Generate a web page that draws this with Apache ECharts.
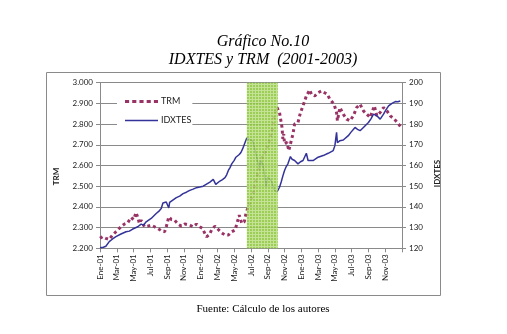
<!DOCTYPE html>
<html>
<head>
<meta charset="utf-8">
<script src="https://cdn.jsdelivr.net/npm/echarts@6/dist/echarts.min.js"></script>
<style>
  html, body { margin: 0; padding: 0; background: #fff; }
  #chart { width: 507px; height: 334px; }
</style>
</head>
<body>
<div id="chart"></div>
<script>
// Month labels shown every two months (x = months elapsed since January 2001)
const monthLabels = ['Ene-01','Mar-01','May-01','Jul-01','Sep-01','Nov-01',
  'Ene-02','Mar-02','May-02','Jul-02','Sep-02','Nov-02',
  'Ene-03','Mar-03','May-03','Jul-03','Sep-03','Nov-03'];

// TRM (pesos per dollar), [month, value]
const trmData = [[0,2248],[0.3,2256],[0.7,2248],[1.1,2243],[1.5,2264],[1.9,2280],[2.5,2304],[2.9,2317],
  [3.3,2323],[3.7,2349],[4.0,2339],[4.3,2373],[4.5,2349],[4.7,2320],[4.9,2336],[5.3,2304],[5.7,2307],
  [6.1,2312],[6.5,2304],[6.9,2296],[7.3,2285],[7.7,2280],[7.9,2304],[8.2,2352],[8.5,2339],[8.9,2336],
  [9.3,2317],[9.7,2307],[10.1,2317],[10.7,2312],[11.1,2304],[11.5,2317],[11.9,2304],[12.2,2296],
  [12.5,2272],[12.7,2256],[13.0,2264],[13.3,2288],[13.7,2307],[14.1,2291],[14.5,2275],[14.9,2264],
  [15.3,2264],[15.7,2280],[16.1,2288],[16.3,2317],[16.6,2360],[16.9,2320],[17.2,2328],[17.4,2368],
  [17.6,2392],[18.2,2456],[18.6,2528],[19.0,2592],[19.4,2648],[19.8,2672],[20.2,2720],[20.6,2784],
  [20.8,2848],[21.1,2880],[21.4,2856],[21.6,2848],[21.7,2784],[21.8,2728],[21.9,2752],[22.0,2704],
  [22.3,2712],[22.5,2672],[22.6,2688],[22.8,2720],[23.0,2752],[23.2,2800],[23.6,2808],[23.9,2856],
  [24.2,2888],[24.6,2936],[25.0,2965],[25.2,2944],[25.6,2936],[26.0,2952],[26.4,2960],[27.1,2944],
  [27.4,2920],[27.9,2896],[28.2,2856],[28.3,2816],[28.6,2880],[29.0,2848],[29.4,2824],[29.8,2816],
  [30.2,2840],[30.6,2880],[31.0,2896],[31.4,2864],[31.8,2848],[32.2,2832],[32.7,2888],[33.0,2840],
  [33.4,2856],[33.8,2880],[34.2,2864],[34.6,2840],[35.1,2824],[35.6,2800],[35.9,2784]];

// IDXTES index, [month, value]
const idxData = [[0,120.3],[0.4,120.5],[0.7,121],[1.1,123.2],[1.5,124.5],[1.9,125.6],[2.5,126.9],
  [3.1,128],[3.5,128.3],[3.9,129.3],[4.5,130.4],[4.9,131.7],[5.2,131.2],[5.5,132.8],[6.1,134.4],
  [6.7,136.8],[7.0,137.8],[7.3,139.2],[7.5,141.9],[7.9,142.4],[8.1,141.8],[8.2,139.5],[8.3,142.2],
  [8.5,142.9],[9.1,144.5],[9.5,145.2],[9.9,146.4],[10.3,147.1],[10.7,148],[11.1,148.6],[11.5,149.3],
  [11.9,149.6],[12.3,150],[12.7,151],[13.1,152],[13.5,153.3],[13.7,152.4],[13.8,150.9],[14.0,151.8],
  [14.3,152.5],[14.6,153.2],[14.9,154.1],[15.1,155.5],[15.3,157.6],[15.5,159],[15.7,160.8],[16.0,162.5],
  [16.2,164],[16.4,164.5],[16.6,165.3],[16.8,166.3],[17.0,168],[17.3,171.2],[17.5,173.3],[17.8,172.5],
  [18.2,172],[18.6,165.6],[18.8,161.6],[19.0,159.2],[19.2,162.4],[19.4,160.8],[19.6,156],[19.8,149.6],
  [20.0,154.4],[20.4,152.8],[20.8,148],[21.1,147.2],[21.4,149.5],[21.6,152],[21.8,155],[22.0,157.6],
  [22.2,159.5],[22.4,160.8],[22.7,164.3],[22.9,163],[23.2,162.4],[23.6,160.8],[23.9,161.8],[24.2,162.4],
  [24.4,163],[24.6,165.9],[24.8,162.4],[25.0,163.2],[25.4,162.4],[26.0,164],[26.6,164.8],[27.2,165.9],
  [27.8,167.2],[28.0,169.6],[28.2,176],[28.3,171],[28.4,170.4],[28.6,172],[29.0,172.3],[29.6,174.4],
  [29.9,176],[30.4,178.4],[30.7,177.5],[31.0,176.8],[31.4,178.4],[32.0,180.8],[32.3,182.5],[32.6,184.8],
  [33.0,184],[33.4,182.4],[33.8,184.8],[34.1,187],[34.4,188.8],[34.8,190],[35.2,190.9],[35.5,190.8],
  [35.8,191.2]];

// Highlighted period (mid-June to early October 2002)
const highlightPeriod = [17.5, 21.2];

// Fine checkered green fill for the highlighted period
function checkerPattern() {
  const c = document.createElement('canvas');
  c.width = 3; c.height = 3;
  const g = c.getContext('2d');
  g.fillStyle = '#8fc83f';
  g.fillRect(0, 0, 3, 3);
  g.fillStyle = '#bde088';
  g.fillRect(0, 0, 3, 1);
  g.fillRect(0, 0, 1, 3);
  return c;
}

// Legend keys: square-dot key for TRM, plain stroke for IDXTES
const dottedKey = 'path://M0,0h4v3h-4z M7,0h4v3h-4z M14,0h4v3h-4z M21,0h4v3h-4z M28,0h4v3h-4z';
const solidKey = 'path://M0,0h32v1.6h-32z';

const labelFont = 'Lato, "Open Sans", sans-serif';
const chart = echarts.init(document.getElementById('chart'), null, { renderer: 'canvas' });

chart.setOption({
  animation: false,
  backgroundColor: '#fff',
  title: [
    {
      text: 'Gráfico No.10\nIDXTES y TRM  (2001-2003)',
      left: 258, top: 28, textAlign: 'center',
      textStyle: { fontFamily: '"Liberation Serif", serif', fontStyle: 'italic', fontWeight: 'normal',
        fontSize: 16, lineHeight: 18, color: '#000' }
    },
    {
      text: 'Fuente: Cálculo de los autores',
      left: 258, top: 299, textAlign: 'center',
      textStyle: { fontFamily: '"Liberation Serif", serif', fontWeight: 'normal', fontSize: 11, color: '#000' }
    }
  ],
  graphic: [{
    type: 'rect', silent: true, z: -1,
    shape: { x: 46.5, y: 72.5, width: 394, height: 223 },
    style: { fill: 'none', stroke: '#8a8a8a', lineWidth: 1 }
  }],
  legend: {
    orient: 'vertical', left: 117, top: 95,
    backgroundColor: '#fff', padding: [2, 1, 2, 8],
    itemWidth: 33, itemHeight: 10, itemGap: 10,
    textStyle: { fontFamily: labelFont, fontSize: 9, color: '#222', padding: [0, 0, 0, -2] },
    data: [{ name: 'TRM', icon: dottedKey }, { name: 'IDXTES', icon: solidKey }]
  },
  grid: { left: 100, right: 105, top: 82.7, bottom: 85.7, containLabel: false },
  xAxis: {
    type: 'value', min: 0, max: 36, interval: 2,
    axisLine: { lineStyle: { color: '#8a8a8a' } },
    axisTick: { length: 4, lineStyle: { color: '#8a8a8a' } },
    splitLine: { show: false },
    axisLabel: {
      rotate: 90, margin: 6, fontFamily: labelFont, fontSize: 8, color: '#222',
      formatter: v => monthLabels[v / 2] || ''
    }
  },
  yAxis: [
    {
      type: 'value', min: 2200, max: 3000, interval: 100, position: 'left',
      name: 'TRM', nameLocation: 'middle', nameRotate: 90, nameGap: 40,
      nameTextStyle: { fontFamily: labelFont, fontSize: 8, fontWeight: 'bold', color: '#222', padding: [0, 22, 0, 0] },
      axisLine: { show: true, lineStyle: { color: '#8a8a8a' } },
      axisTick: { show: true, length: 4, lineStyle: { color: '#8a8a8a' } },
      splitLine: { show: true, lineStyle: { color: '#8a8a8a', width: 1 } },
      axisLabel: { margin: 7, fontFamily: labelFont, fontSize: 8, color: '#222',
        formatter: v => String(v).replace(/(\d)(\d{3})$/, '$1.$2') }
    },
    {
      type: 'value', min: 120, max: 200, interval: 10, position: 'right',
      name: 'IDXTES', nameLocation: 'middle', nameRotate: 90, nameGap: 28,
      nameTextStyle: { fontFamily: labelFont, fontSize: 8, fontWeight: 'bold', color: '#222', padding: [0, 16, 0, 0] },
      axisLine: { show: true, lineStyle: { color: '#8a8a8a' } },
      axisTick: { show: true, length: 4, lineStyle: { color: '#8a8a8a' } },
      splitLine: { show: false },
      axisLabel: { margin: 7, fontFamily: labelFont, fontSize: 8, color: '#222' }
    }
  ],
  series: [
    {
      name: 'TRM', type: 'line', yAxisIndex: 0, data: trmData,
      showSymbol: false, symbol: 'none', z: 3,
      lineStyle: { color: '#993366', width: 3, type: [3, 3], cap: 'butt' },
      itemStyle: { color: '#993366' }
    },
    {
      name: 'IDXTES', type: 'line', yAxisIndex: 1, data: idxData,
      showSymbol: false, symbol: 'none', z: 3,
      lineStyle: { color: '#333399', width: 1.5 },
      itemStyle: { color: '#333399' }
    },
    {
      name: 'period', type: 'line', yAxisIndex: 0, data: [], z: 10,
      markArea: {
        silent: true, z: 10,
        itemStyle: { color: { image: checkerPattern(), repeat: 'repeat' }, opacity: 0.88 },
        data: [[{ xAxis: highlightPeriod[0] }, { xAxis: highlightPeriod[1] }]]
      }
    }
  ]
});
</script>
</body>
</html>
